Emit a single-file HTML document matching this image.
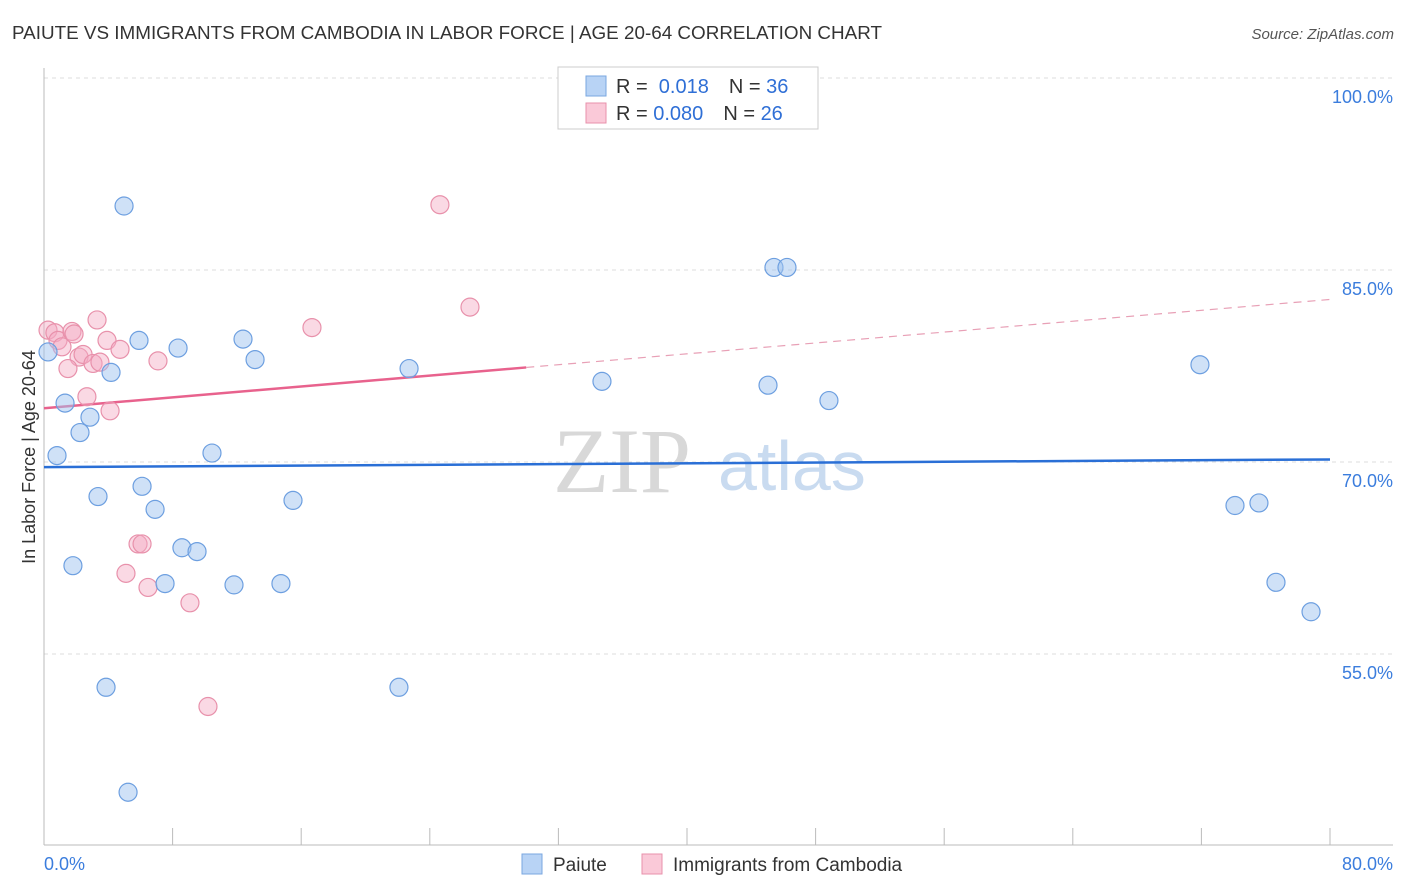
<!DOCTYPE html>
<html><head><meta charset="utf-8"><style>
body{margin:0;background:#fff;font-family:"Liberation Sans",sans-serif}
svg{display:block}
</style></head><body>
<svg id="chart" width="1406" height="892">
<text x="12" y="39" font-size="18" fill="#333" textLength="870" lengthAdjust="spacingAndGlyphs">PAIUTE VS IMMIGRANTS FROM CAMBODIA IN LABOR FORCE | AGE 20-64 CORRELATION CHART</text>
<text x="1394" y="39" font-size="15" fill="#555" font-style="italic" text-anchor="end">Source: ZipAtlas.com</text>
<g>
<text x="553" y="492" font-size="92" fill="#d8d8d8" font-family="Liberation Serif,serif">ZIP</text>
<text x="718" y="490" font-size="70" fill="#c9dbf0">atlas</text>
</g>
<g id="grid"></g><g id="axes"></g><g id="trends"></g><g id="points"></g>
<text x="35" y="457" font-size="18" fill="#333" text-anchor="middle" transform="rotate(-90 35 457)">In Labor Force | Age 20-64</text>
<g>
<rect x="558" y="67" width="260" height="62" fill="#fff" stroke="#ccc"/>
<rect x="586" y="76" width="20" height="20" fill="#b8d3f5" stroke="#7aa7e0"/>
<rect x="586" y="103" width="20" height="20" fill="#fac9d8" stroke="#e891ab"/>
<text x="616" y="93" font-size="20" fill="#333">R = <tspan fill="#2f6fd6">&#160;0.018</tspan><tspan dx="20">N = </tspan><tspan fill="#2f6fd6">36</tspan></text>
<text x="616" y="120" font-size="20" fill="#333">R = <tspan fill="#2f6fd6">0.080</tspan><tspan dx="20">N = </tspan><tspan fill="#2f6fd6">26</tspan></text>
</g>
<g>
<rect x="522" y="854" width="20" height="20" fill="#b8d3f5" stroke="#7aa7e0"/>
<text x="553" y="871" font-size="19" fill="#333">Paiute</text>
<rect x="642" y="854" width="20" height="20" fill="#fac9d8" stroke="#e891ab"/>
<text x="673" y="871" font-size="19" fill="#333">Immigrants from Cambodia</text>
</g>
</svg>
<script>
const paiuteX=[4.98,0.25,1.31,0.81,2.24,2.86,4.17,5.91,8.34,12.38,13.13,10.45,6.10,3.36,6.91,1.80,8.58,9.52,7.53,11.82,14.74,15.49,3.86,5.23,22.08,22.71,34.71,45.41,46.22,45.04,48.83,71.91,74.09,75.58,76.64,78.82];
const paiuteY=[90.0,78.6,74.6,70.5,72.3,73.5,77.0,79.5,78.9,79.6,78.0,70.7,68.1,67.3,66.3,61.9,63.3,63.0,60.5,60.4,60.5,67.0,52.4,44.2,52.4,77.3,76.3,85.2,85.2,76.0,74.8,77.6,66.6,66.8,60.6,58.3];
const cambX=[24.63,26.50,16.67,3.30,0.25,0.68,0.87,1.12,1.74,1.87,3.92,4.73,2.18,2.43,3.05,3.48,1.49,7.09,2.67,4.11,5.85,6.10,5.10,6.47,9.08,10.20];
const cambY=[90.1,82.1,80.5,81.1,80.3,80.1,79.5,79.0,80.2,80.0,79.5,78.8,78.2,78.4,77.7,77.8,77.3,77.9,75.1,74.0,63.6,63.6,61.3,60.2,59.0,50.9];
const yTicks=[100,85,70,55];
const xTickLabels=["0.0%","80.0%"];
const paiuteTrend=[69.6,70.2];
const cambTrend=[74.2,82.7];
const cambSolidEnd=30;

const NS="http://www.w3.org/2000/svg";
const X=v=>44+v/80*1286;
const Y=v=>78+(100-v)*12.8;
function mk(tag,attrs,parent){const e=document.createElementNS(NS,tag);for(const k in attrs)e.setAttribute(k,attrs[k]);document.getElementById(parent).appendChild(e);return e;}
yTicks.forEach((t,i)=>{
  const l=mk('line',{x1:44,x2:1393,y1:Y(t),y2:Y(t),stroke:'#ddd','stroke-dasharray':'4,4'},'grid');
  
  
  const tx=mk('text',{x:1393,y:Y(t)+25,'font-size':18,fill:'#3b7ddd','text-anchor':'end'},'grid');
  tx.textContent=t.toFixed(1)+'%';
  
  
});
let a=mk('line',{x1:44,x2:44,y1:68,y2:845,stroke:'#bbb'},'axes');


a=mk('line',{x1:44,x2:1393,y1:845,y2:845,stroke:'#bbb'},'axes');


for(let i=0;i<=10;i++){
  const t=mk('line',{x1:X(i*8),x2:X(i*8),y1:828,y2:845,stroke:'#bbb'},'axes');
  
  
}
[[0,'start',44],[80,'end',1393]].forEach((d,i)=>{
  const t=mk('text',{x:d[2],y:870,'font-size':18,fill:'#3b7ddd','text-anchor':d[1]},'axes');
  t.textContent=xTickLabels[i];
  
  
});
let tl=mk('line',{x1:X(0),x2:X(80),y1:Y(paiuteTrend[0]),y2:Y(paiuteTrend[1]),stroke:'#2a6fd6','stroke-width':2.5},'trends');


const cy=x=>cambTrend[0]+(cambTrend[1]-cambTrend[0])*x/80;
tl=mk('line',{x1:X(0),x2:X(cambSolidEnd),y1:Y(cy(0)),y2:Y(cy(cambSolidEnd)),stroke:'#e8628d','stroke-width':2.5},'trends');


tl=mk('line',{x1:X(cambSolidEnd),x2:X(80),y1:Y(cy(cambSolidEnd)),y2:Y(cy(80)),stroke:'#e8a0b6','stroke-width':1.2,'stroke-dasharray':'8,6'},'trends');


cambX.forEach((v,i)=>{
  const c=mk('circle',{cx:X(v),cy:Y(cambY[i]),r:9,fill:'rgba(245,170,195,0.45)',stroke:'#e891ab','stroke-width':1.2},'points');
  
  
});
paiuteX.forEach((v,i)=>{
  const c=mk('circle',{cx:X(v),cy:Y(paiuteY[i]),r:9,fill:'rgba(160,195,240,0.5)',stroke:'#6d9fe0','stroke-width':1.2},'points');
  
  
});
</script>
</body></html>
